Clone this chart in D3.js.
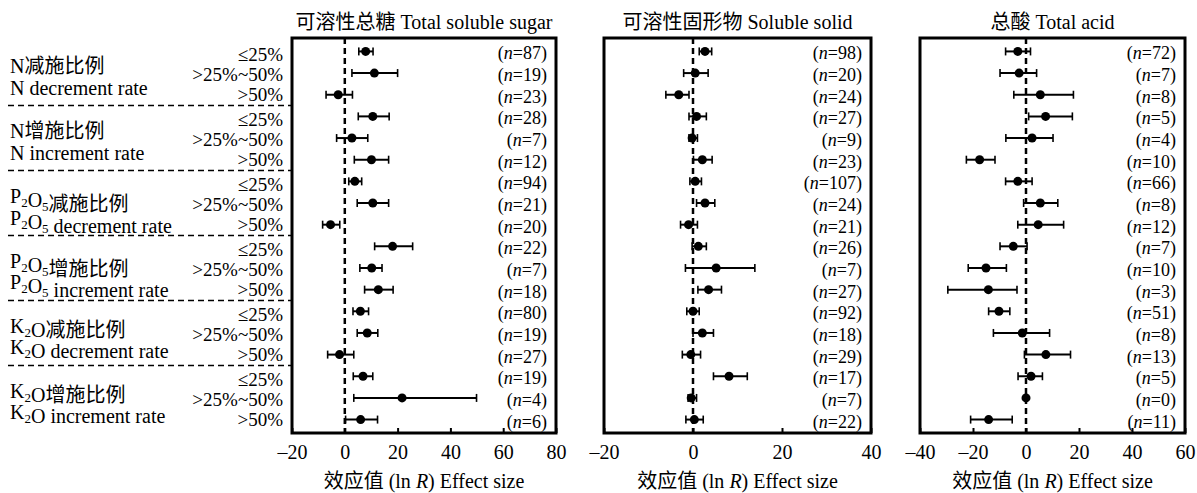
<!DOCTYPE html>
<html>
<head>
<meta charset="utf-8">
<script src="https://cdn.jsdelivr.net/npm/d3@7"></script>
<style>
  body { margin: 0; background: #fff; }
  svg, svg text { font-family: "Liberation Serif", "Times New Roman", "Noto Sans CJK SC", serif; fill: #000; }
</style>
</head>
<body>
<div id="chart"></div>
<script>
// group labels (use _N for a subscript digit)
const groupCn = ["N减施比例", "N增施比例", "P_2O_5减施比例", "P_2O_5增施比例", "K_2O减施比例", "K_2O增施比例"];
const groupEn = ["N decrement rate", "N increment rate", "P_2O_5 decrement rate", "P_2O_5 increment rate", "K_2O decrement rate", "K_2O increment rate"];
const rateLevels = ["≤25%", ">25%~50%", ">50%"];

const tickSugar = [-20, 0, 20, 40, 60, 80];
const tickSolid = [-20, 0, 20, 40];
const tickAcid = [-40, -20, 0, 20, 40, 60];

// 可溶性总糖 Total soluble sugar
const sugarMean = [7.9, 11.2, -2.5, 10.6, 2.7, 10.1, 3.8, 10.6, -5.4, 18.1, 10.2, 12.7, 5.9, 8.5, -2.0, 6.9, 21.7, 6.0];
const sugarLow  = [5.3, 2.7, -7.1, 5.1, -3.1, 3.6, 1.5, 4.7, -8.4, 11.3, 5.7, 7.5, 3.1, 4.7, -6.5, 3.2, 3.4, 0.3];
const sugarHigh = [10.7, 20.0, 2.9, 16.8, 8.7, 16.6, 6.4, 16.6, -1.9, 25.7, 14.1, 18.3, 9.0, 12.5, 3.4, 10.6, 49.9, 12.4];
const sugarN    = [87, 19, 23, 28, 7, 12, 94, 21, 20, 22, 7, 18, 80, 19, 27, 19, 4, 6];

// 可溶性固形物 Soluble solid
const solidMean = [2.7, 0.5, -3.2, 0.8, -0.2, 2.1, 0.5, 2.7, -1.0, 1.2, 5.2, 3.5, 0.0, 2.1, -0.5, 8.1, -0.4, 0.3];
const solidLow  = [1.4, -2.1, -6.1, -0.9, -0.9, 0.1, -0.7, 0.8, -2.8, -0.2, -1.7, 1.1, -1.4, 0.0, -2.4, 4.6, -1.1, -1.6];
const solidHigh = [4.2, 3.4, -0.9, 3.0, 1.0, 4.3, 1.9, 4.9, 1.0, 3.0, 13.9, 6.4, 1.4, 4.6, 1.7, 12.2, 0.8, 2.3];
const solidN    = [98, 20, 24, 27, 9, 23, 107, 24, 21, 26, 7, 27, 92, 18, 29, 17, 7, 22];

// 总酸 Total acid
const acidMean = [-3.1, -2.6, 5.4, 7.4, 2.3, -17.5, -3.1, 5.4, 4.6, -4.8, -15.1, -14.2, -10.2, -1.4, 7.5, 1.9, 0.0, -14.1];
const acidLow  = [-7.7, -9.8, -4.6, 1.0, -7.6, -22.5, -7.7, -0.9, -3.1, -9.8, -21.8, -29.5, -14.1, -12.3, -0.6, -3.0, null, -20.9];
const acidHigh = [1.7, 4.0, 17.9, 17.5, 10.2, -11.7, 2.3, 12.0, 14.2, 0.4, -7.4, -3.4, -6.1, 8.9, 16.8, 6.2, null, -5.2];
const acidN    = [72, 7, 8, 5, 4, 10, 66, 8, 12, 7, 10, 3, 51, 8, 13, 5, 0, 11];

const config = {
  width: 1197,
  height: 493,
  plotTop: 38,
  plotBottom: 433,
  labelX: 10,
  levelX: 283,
  sepX0: 8,
  fontSize: 20,
  levelFontSize: 19,
  nFontSize: 18
};

const panels = [
  {title: "可溶性总糖 Total soluble sugar", domain: [-20, 80], range: [292, 556], ticks: tickSugar,
   mean: sugarMean, low: sugarLow, high: sugarHigh, n: sugarN},
  {title: "可溶性固形物 Soluble solid", domain: [-20, 40], range: [604, 871], ticks: tickSolid,
   mean: solidMean, low: solidLow, high: solidHigh, n: solidN},
  {title: "总酸 Total acid", domain: [-40, 60], range: [920, 1185], ticks: tickAcid,
   mean: acidMean, low: acidLow, high: acidHigh, n: acidN}
];

const rows = d3.range(groupCn.length * rateLevels.length);

const svg = d3.select("#chart").append("svg")
    .attr("width", config.width)
    .attr("height", config.height);

const yScale = d3.scalePoint()
    .domain(rows)
    .range([config.plotTop, config.plotBottom])
    .padding(0.62);

// writes text with "_2" style subscripts as tspans
function richText(sel, str) {
  str.split(/(_\d)/).filter(s => s !== "").forEach(s => {
    if (s[0] === "_") {
      sel.append("tspan").attr("font-size", 13).attr("dy", 4).text(s.slice(1));
      sel.append("tspan").attr("dy", -4).text("");
    } else {
      sel.append("tspan").text(s);
    }
  });
}

// ---- left labels ----
const left = svg.append("g").attr("font-size", config.fontSize);

groupCn.forEach((cn, g) => {
  const mid = yScale(g * 3 + 1);
  richText(left.append("text").attr("x", config.labelX).attr("y", mid - 7).attr("dy", "0.35em"), cn);
  richText(left.append("text").attr("x", config.labelX).attr("y", mid + 14.5).attr("dy", "0.35em"), groupEn[g]);

  // separator below each group except the last
  if (g < groupCn.length - 1) {
    const ySep = (yScale(g * 3 + 2) + yScale(g * 3 + 3)) / 2;
    left.append("line")
        .attr("x1", config.sepX0).attr("x2", panels[0].range[0])
        .attr("y1", ySep).attr("y2", ySep)
        .attr("stroke", "#000")
        .attr("stroke-width", 1.5)
        .attr("stroke-dasharray", "6,4");
  }
});

const levelOffset = [3, 1.5, 0];
left.selectAll(".level")
    .data(rows)
  .join("text")
    .attr("class", "level")
    .attr("x", config.levelX)
    .attr("y", d => yScale(d) + levelOffset[d % 3])
    .attr("dy", "0.33em")
    .attr("text-anchor", "end")
    .attr("font-size", config.levelFontSize)
    .text(d => rateLevels[d % 3]);

// ---- panels ----
panels.forEach(p => {
  const x = d3.scaleLinear().domain(p.domain).range(p.range);
  const g = svg.append("g");

  const data = rows.map(i => ({i, mean: p.mean[i], low: p.low[i], high: p.high[i], n: p.n[i]}));

  // title
  g.append("text")
      .attr("x", (p.range[0] + p.range[1]) / 2)
      .attr("y", 22)
      .attr("dy", "0.35em")
      .attr("text-anchor", "middle")
      .attr("font-size", config.fontSize)
      .text(p.title);

  // zero line
  g.append("line")
      .attr("x1", x(0)).attr("x2", x(0))
      .attr("y1", config.plotTop).attr("y2", config.plotBottom)
      .attr("stroke", "#000")
      .attr("stroke-width", 2.5)
      .attr("stroke-dasharray", "6,4");

  // error bars
  const bars = data.filter(d => d.low !== null);
  g.selectAll(".ci")
      .data(bars)
    .join("line")
      .attr("class", "ci")
      .attr("x1", d => x(d.low)).attr("x2", d => x(d.high))
      .attr("y1", d => yScale(d.i)).attr("y2", d => yScale(d.i))
      .attr("stroke", "#000")
      .attr("stroke-width", 2);

  g.selectAll(".cap")
      .data(bars.flatMap(d => [{i: d.i, v: d.low}, {i: d.i, v: d.high}]))
    .join("line")
      .attr("class", "cap")
      .attr("x1", d => x(d.v)).attr("x2", d => x(d.v))
      .attr("y1", d => yScale(d.i) - 4).attr("y2", d => yScale(d.i) + 4)
      .attr("stroke", "#000")
      .attr("stroke-width", 1.6);

  g.selectAll(".pt")
      .data(data)
    .join("circle")
      .attr("class", "pt")
      .attr("cx", d => x(d.mean))
      .attr("cy", d => yScale(d.i))
      .attr("r", 4.5)
      .attr("fill", "#000");

  // sample sizes
  const nText = g.selectAll(".n")
      .data(data)
    .join("text")
      .attr("class", "n")
      .attr("x", p.range[1] - 9)
      .attr("y", d => yScale(d.i) + 2)
      .attr("dy", "0.33em")
      .attr("text-anchor", "end")
      .attr("font-size", config.nFontSize);
  nText.append("tspan").text("(");
  nText.append("tspan").attr("font-style", "italic").text("n");
  nText.append("tspan").text(d => `=${d.n})`);

  // frame
  g.append("rect")
      .attr("x", p.range[0]).attr("y", config.plotTop)
      .attr("width", p.range[1] - p.range[0])
      .attr("height", config.plotBottom - config.plotTop)
      .attr("fill", "none")
      .attr("stroke", "#000")
      .attr("stroke-width", 3);

  // axis with inward ticks
  const axis = d3.axisBottom(x)
      .tickValues(p.ticks)
      .tickSizeInner(-5)
      .tickSizeOuter(0)
      .tickPadding(12)
      .tickFormat(d => d < 0 ? "–" + Math.abs(d) : d);

  const axisG = g.append("g")
      .attr("transform", `translate(0,${config.plotBottom})`)
      .call(axis)
      .attr("font-family", null)
      .attr("font-size", config.fontSize);
  axisG.select(".domain").remove();
  axisG.selectAll(".tick line").attr("stroke", "#000").attr("stroke-width", 2);
  axisG.selectAll(".tick text").attr("fill", "#000");

  // axis title
  const at = g.append("text")
      .attr("x", (p.range[0] + p.range[1]) / 2)
      .attr("y", 481)
      .attr("dy", "0.33em")
      .attr("text-anchor", "middle")
      .attr("font-size", config.fontSize);
  at.append("tspan").text("效应值 (ln ");
  at.append("tspan").attr("font-style", "italic").text("R");
  at.append("tspan").text(") Effect size");
});
</script>
</body>
</html>
